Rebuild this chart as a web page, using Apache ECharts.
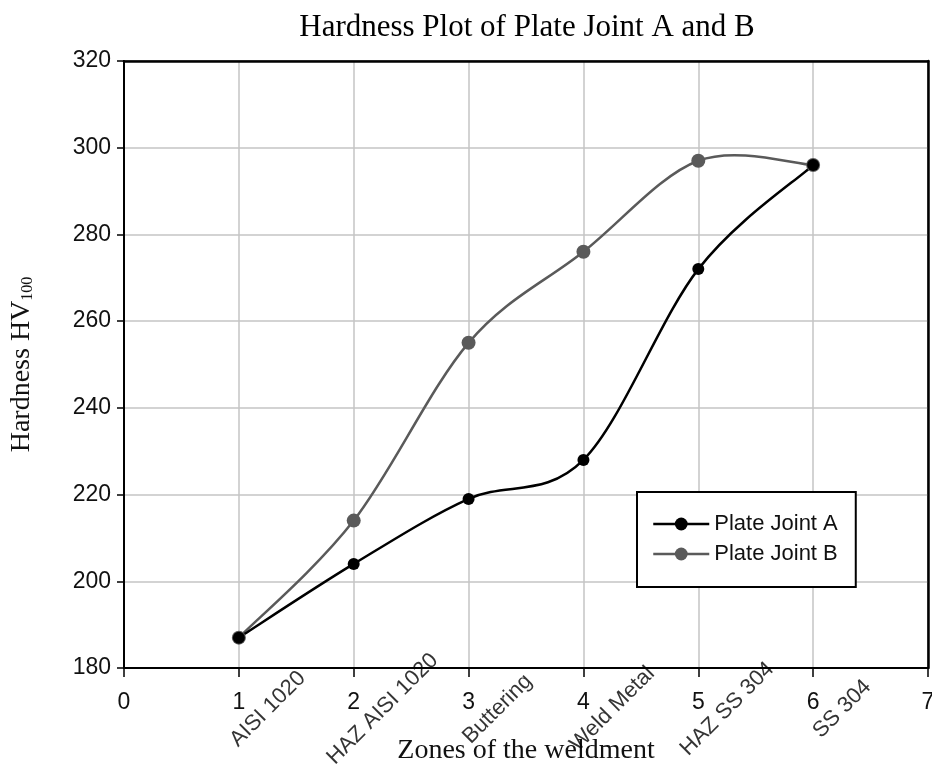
<!DOCTYPE html>
<html>
<head>
<meta charset="utf-8">
<script src="https://cdn.jsdelivr.net/npm/echarts@6/dist/echarts.min.js"></script>
<style>
html,body{margin:0;padding:0;background:#fff;}
#chart{width:932px;height:769px;}
</style>
</head>
<body>
<div id="chart"></div>
<script>
const zonePositions = [1, 2, 3, 4, 5, 6];
const zoneNames = ['AISI 1020', 'HAZ AISI 1020', 'Buttering', 'Weld Metal', 'HAZ SS 304', 'SS 304'];
const jointA = [187, 204, 219, 228, 272, 296];
const jointB = [187, 214, 255, 276, 297, 296];
const xTicks = [0, 1, 2, 3, 4, 5, 6, 7];
const yTicks = [180, 200, 220, 240, 260, 280, 300, 320];

const serif = '"Liberation Serif", "Times New Roman", serif';
const sans = '"Liberation Sans", Arial, sans-serif';
const colorA = '#000';
const colorB = '#5a5a5a';

// Smooth (Catmull-Rom style, like a spreadsheet smoothed line) segment renderer
function smoothSegment(values, color) {
  return function (params, api) {
    const i = params.dataIndex;
    const n = zonePositions.length;
    const pt = k => {
      const kk = Math.max(0, Math.min(n - 1, k));
      return api.coord([zonePositions[kk], values[kk]]);
    };
    const p0 = pt(i - 1), p1 = pt(i), p2 = pt(i + 1), p3 = pt(i + 2);
    const t = 1 / 6;
    return {
      type: 'bezierCurve',
      shape: {
        x1: p1[0], y1: p1[1], x2: p2[0], y2: p2[1],
        cpx1: p1[0] + (p2[0] - p0[0]) * t, cpy1: p1[1] + (p2[1] - p0[1]) * t,
        cpx2: p2[0] - (p3[0] - p1[0]) * t, cpy2: p2[1] - (p3[1] - p1[1]) * t
      },
      style: {stroke: color, lineWidth: 2.5, fill: null}
    };
  };
}

const chart = echarts.init(document.getElementById('chart'), null, {renderer: 'canvas'});
chart.setOption({
  backgroundColor: '#fff',
  animation: false,
  title: {
    text: 'Hardness Plot of Plate Joint A and B',
    left: 522, top: 7, textAlign: 'center',
    textStyle: {fontFamily: serif, fontSize: 31, fontWeight: 'normal', color: '#000'}
  },
  legend: {
    data: [
      {name: 'Plate Joint A', lineStyle: {color: colorA, width: 2.5, opacity: 1}},
      {name: 'Plate Joint B', lineStyle: {color: colorB, width: 2.5, opacity: 1}}
    ],
    orient: 'vertical',
    left: 637, top: 492,
    padding: [21, 18, 22, 15],
    itemGap: 8,
    itemWidth: 56, itemHeight: 16,
    borderColor: '#000', borderWidth: 2, borderRadius: 0,
    backgroundColor: '#fff',
    textStyle: {fontFamily: sans, fontSize: 22, color: '#111'}
  },
  grid: {
    left: 124, top: 61, width: 804, height: 607,
    outerBoundsMode: 'none', containLabel: false,
    show: true, borderColor: '#000', borderWidth: 2, backgroundColor: '#fff'
  },
  xAxis: [{
    type: 'value', min: xTicks[0], max: xTicks[xTicks.length - 1], interval: 1,
    name: 'Zones of the weldment', nameLocation: 'middle', nameGap: 69,
    nameTextStyle: {fontFamily: serif, fontSize: 28, color: '#111'},
    axisLine: {show: true, lineStyle: {color: '#000', width: 2}},
    axisTick: {show: true, inside: false, length: 9, lineStyle: {color: '#000', width: 1.5}},
    axisLabel: {fontFamily: sans, fontSize: 23, color: '#111', margin: 23},
    splitLine: {show: true, lineStyle: {color: '#c4c4c4', width: 1.5}}
  }, {
    type: 'value', position: 'top', min: xTicks[0], max: xTicks[xTicks.length - 1], interval: 1,
    axisLine: {show: true, lineStyle: {color: '#000', width: 2.5}},
    axisTick: {show: false}, axisLabel: {show: false}, splitLine: {show: false}
  }],
  yAxis: [{
    type: 'value', min: yTicks[0], max: yTicks[yTicks.length - 1], interval: 20,
    name: '{a|Hardness HV}{s|100}', nameLocation: 'middle', nameGap: 88,
    nameTextStyle: {
      rich: {
        a: {fontFamily: serif, fontSize: 28, color: '#111', verticalAlign: 'bottom'},
        s: {fontFamily: serif, fontSize: 16, color: '#111', lineHeight: 12, verticalAlign: 'bottom'}
      }
    },
    axisLine: {show: true, lineStyle: {color: '#000', width: 2}},
    axisTick: {show: true, inside: false, length: 7, lineStyle: {color: '#000', width: 1.5}},
    axisLabel: {fontFamily: sans, fontSize: 23, color: '#111', margin: 13},
    splitLine: {show: true, lineStyle: {color: '#c4c4c4', width: 1.5}}
  }, {
    type: 'value', position: 'right', min: yTicks[0], max: yTicks[yTicks.length - 1], interval: 20,
    axisLine: {show: true, onZero: false, lineStyle: {color: '#000', width: 2.5}},
    axisTick: {show: false}, axisLabel: {show: false}, splitLine: {show: false}
  }],
  series: [
    {
      name: 'Plate Joint A', type: 'line',
      data: zonePositions.map((x, i) => [x, jointA[i]]),
      symbol: 'circle', symbolSize: 12,
      lineStyle: {color: colorA, width: 2.5, opacity: 0},
      itemStyle: {color: colorA},
      z: 4
    },
    {
      name: 'Plate Joint B', type: 'line',
      data: zonePositions.map((x, i) => [x, jointB[i]]),
      symbol: 'circle', symbolSize: 14,
      lineStyle: {color: colorB, width: 2.5, opacity: 0},
      itemStyle: {color: colorB},
      z: 3
    },
    {
      name: 'curveA', type: 'custom', silent: true, clip: false, z: 2,
      data: zonePositions.slice(0, -1).map((x, i) => [x, jointA[i]]),
      encode: {x: 0, y: 1},
      renderItem: smoothSegment(jointA, colorA)
    },
    {
      name: 'curveB', type: 'custom', silent: true, clip: false, z: 1,
      data: zonePositions.slice(0, -1).map((x, i) => [x, jointB[i]]),
      encode: {x: 0, y: 1},
      renderItem: smoothSegment(jointB, colorB)
    },
    {
      name: 'zones', type: 'scatter', clip: false, silent: true,
      data: zonePositions.map(x => [x, yTicks[0]]),
      symbolSize: 0,
      label: {
        show: true,
        formatter: p => zoneNames[p.dataIndex],
        position: [29, 41],
        align: 'center', verticalAlign: 'middle',
        rotate: 45,
        fontFamily: sans, fontSize: 22, color: '#000'
      }
    }
  ]
});
</script>
</body>
</html>
